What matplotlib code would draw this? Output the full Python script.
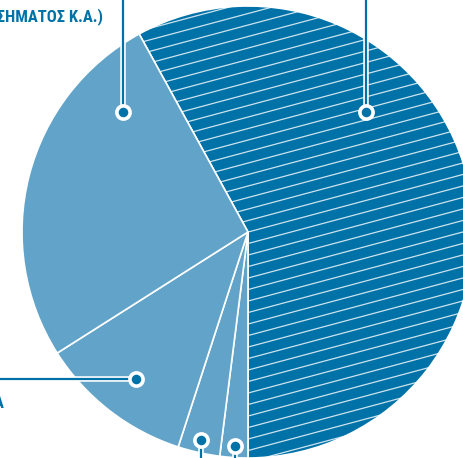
import numpy as np
import matplotlib
matplotlib.use('Agg')
from matplotlib import pyplot as plt
import matplotlib.patheffects as pe
from matplotlib import font_manager

# slice shares (percent), dark hatched slice first, then clockwise
shares = [58, 2, 3, 11, 26]
slice_colors = ['#0072a8', '#62a3c9', '#62a3c9', '#62a3c9', '#62a3c9']
label_top = ['ΕΜΠΟΡΙΚΗ ΧΡΗΣΗ', '(ΧΡΗΣΗ ΣΗΜΑΤΟΣ Κ.Α.)']
label_left = 'ΛΟΙΠΑ'

W, H = 464, 458
blue = '#0072a8'

# pick a condensed face if one is installed
names = {f.name for f in font_manager.fontManager.ttflist}
fams = [n for n in ['Roboto Condensed', 'Open Sans Condensed', 'Roboto'] if n in names]

fig = plt.figure(figsize=(W / 100, H / 100), dpi=100)
ax = fig.add_axes([0, 0, 1, 1])

cx, cy, r = 248, H - 232, 226
start = 90 + (360 * shares[0] / 100 - 180)
wedges, _ = ax.pie(shares, colors=slice_colors, startangle=start, counterclock=False,
                   center=(cx, cy), radius=r, frame=True,
                   wedgeprops=dict(edgecolor='white', linewidth=1.2))
ax.set_xlim(0, W)
ax.set_ylim(0, H)
ax.set_aspect('equal')
ax.axis('off')

# shallow hatch lines on the big slice
slope = np.tan(np.radians(15))
xs = np.array([cx - r - 50, cx + r + 50])
for b in np.arange(-400, 700, 11.5):
    ln, = ax.plot(xs, b + slope * (xs - xs[0]), color='white', lw=0.9, alpha=0.8)
    ln.set_clip_path(wedges[0])


def leader(px, py, ex, ey):
    # px, py marker in pixels (top-left origin), ex, ey end of line
    ax.plot([px, ex], [H - py, H - ey], color=blue, lw=1.6, solid_capstyle='butt',
            path_effects=[pe.Stroke(linewidth=4, foreground='white'), pe.Normal()],
            zorder=5)
    ax.plot(px, H - py, 'o', ms=9.5, mfc=blue, mec='white', mew=2.6, zorder=6)


leader(366, 112, 366, -10)
leader(123, 112, 123, -10)
leader(136, 379, -10, 379)
leader(201, 440, 201, 470)
leader(235, 446, 235, 470)

font = dict(family=fams + ['DejaVu Sans'], fontweight='bold', color=blue, fontsize=12)
ax.text(6, H + 5, label_top[0], ha='right', va='center', **font)
ax.text(103, H - 17, label_top[1], ha='right', va='center', **font)
ax.text(5, H - 403, label_left, ha='right', va='center', **font)

fig.savefig('out.png', dpi=100)
